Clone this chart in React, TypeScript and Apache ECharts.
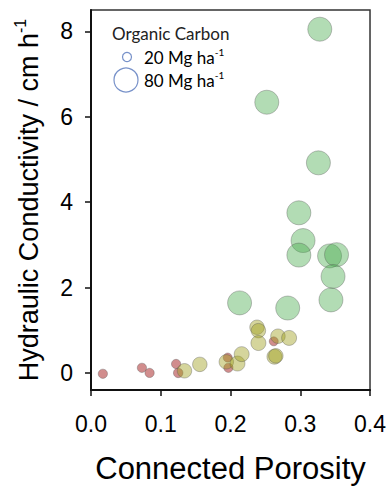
import React, { useEffect, useRef } from "react";
import * as echarts from "echarts";

// Connected porosity (x), hydraulic conductivity cm/h (y), organic carbon Mg/ha (size)
const redPorosity = [0.017, 0.073, 0.084, 0.122, 0.125, 0.196, 0.197, 0.262];
const redK = [-0.02, 0.12, 0.0, 0.21, 0.0, 0.36, 0.12, 0.74];
const redOC = [21, 21, 21, 21, 22, 20, 21, 20];

const olivePorosity = [0.134, 0.156, 0.194, 0.21, 0.216, 0.238, 0.24, 0.24, 0.263, 0.265, 0.268, 0.284];
const oliveK = [0.05, 0.2, 0.26, 0.22, 0.44, 1.07, 0.99, 0.7, 0.38, 0.4, 0.86, 0.82];
const oliveOC = [42, 42, 42, 44, 44, 42, 42, 44, 44, 42, 42, 44];

const greenPorosity = [0.328, 0.252, 0.326, 0.298, 0.304, 0.298, 0.342, 0.352, 0.347, 0.344, 0.213, 0.282];
const greenK = [8.05, 6.34, 4.92, 3.75, 3.1, 2.76, 2.74, 2.77, 2.26, 1.71, 1.64, 1.52];
const greenOC = [80, 80, 80, 80, 80, 80, 80, 80, 80, 80, 80, 80];

const xTicks = [0, 0.1, 0.2, 0.3, 0.4];
const yTicks = [0, 2, 4, 6, 8];
const legendOC = [20, 80];

const sizeOf = (oc: number) => 9 + (oc - 20) / 4;

const zip = (xs: number[], ys: number[], ss: number[]) => xs.map((x, i) => [x, ys[i], ss[i]]);

export default function App() {
  const ref = useRef<HTMLDivElement>(null);
  useEffect(() => {
    if (!ref.current) return;
    const chart = echarts.init(ref.current, undefined, { renderer: "svg" });
    const font = "'Liberation Sans', Arial, sans-serif";
    const lfont = "Lato, 'Liberation Sans', sans-serif";
    const mkSeries = (name: string, data: number[][], color: string) => ({
      name,
      type: "scatter",
      data,
      symbol: "circle",
      symbolSize: (v: number[]) => sizeOf(v[2]),
      itemStyle: { color, borderColor: "rgba(80,80,80,0.55)", borderWidth: 0.8 },
      emphasis: { disabled: true },
    });
    const legendRich = {
      m: { fontFamily: lfont, fontSize: 17, color: "#222", lineHeight: 20 },
      s: { fontFamily: lfont, fontSize: 10, color: "#222", verticalAlign: "top", lineHeight: 11 },
    };
    chart.setOption({
      animation: false,
      backgroundColor: "#fff",
      grid: { left: 91, right: 18, top: 10, bottom: 94, show: true, borderColor: "#333", borderWidth: 1.5 },
      xAxis: {
        type: "value",
        min: 0,
        max: 0.4,
        name: "Connected Porosity",
        nameLocation: "middle",
        nameGap: 63,
        nameTextStyle: { fontFamily: font, fontSize: 31, color: "#000" },
        axisLine: { show: true, onZero: false, lineStyle: { color: "#111", width: 2 } },
        axisTick: { show: true, customValues: xTicks, length: 6, lineStyle: { color: "#111", width: 1.5 } },
        axisLabel: {
          customValues: xTicks,
          formatter: (v: number) => v.toFixed(1),
          fontFamily: font,
          fontSize: 23,
          color: "#000",
          margin: 22,
        },
        splitLine: { show: false },
      },
      yAxis: {
        type: "value",
        min: -0.4,
        max: 8.5,
        name: "{a|Hydraulic Conductivity / cm h}{s|-1}",
        nameLocation: "middle",
        nameRotate: 90,
        nameGap: 45,
        nameTextStyle: {
          fontFamily: font,
          color: "#000",
          rich: {
            a: { fontFamily: font, fontSize: 27, lineHeight: 34, color: "#000" },
            s: { fontFamily: font, fontSize: 16, verticalAlign: "top", lineHeight: 18, color: "#000" },
          },
        },
        axisLine: { show: true, onZero: false, lineStyle: { color: "#111", width: 2 } },
        axisTick: { show: true, customValues: yTicks, length: 6, lineStyle: { color: "#111", width: 1.5 } },
        axisLabel: {
          customValues: yTicks,
          fontFamily: font,
          fontSize: 23,
          color: "#000",
          margin: 18,
        },
        splitLine: { show: false },
      },
      graphic: [
        {
          type: "text",
          x: 112,
          y: 33,
          style: { text: "Organic Carbon", font: `17px ${lfont}`, fill: "#222", verticalAlign: "middle" },
        },
        {
          type: "circle",
          shape: { cx: 127, cy: 57, r: sizeOf(legendOC[0]) / 2 },
          style: { fill: "#fff", stroke: "#7791c9", lineWidth: 1.2 },
        },
        {
          type: "text",
          x: 144,
          y: 57,
          style: { text: `{m|${legendOC[0]} Mg ha}{s|-1}`, verticalAlign: "middle", rich: legendRich },
        },
        {
          type: "circle",
          shape: { cx: 126, cy: 80, r: sizeOf(legendOC[1]) / 2 },
          style: { fill: "#fff", stroke: "#7791c9", lineWidth: 1.2 },
        },
        {
          type: "text",
          x: 144,
          y: 80,
          style: { text: `{m|${legendOC[1]} Mg ha}{s|-1}`, verticalAlign: "middle", rich: legendRich },
        },
      ],
      series: [
        mkSeries("Low OC", zip(redPorosity, redK, redOC), "rgba(170,45,45,0.68)"),
        mkSeries("Mid OC", zip(olivePorosity, oliveK, oliveOC), "rgba(160,160,30,0.55)"),
        mkSeries("High OC", zip(greenPorosity, greenK, greenOC), "rgba(70,170,75,0.52)"),
      ],
    });
    return () => chart.dispose();
  }, []);
  return <div ref={ref} style={{ position: "fixed", left: 0, top: 0, width: 389, height: 489 }} />;
}
